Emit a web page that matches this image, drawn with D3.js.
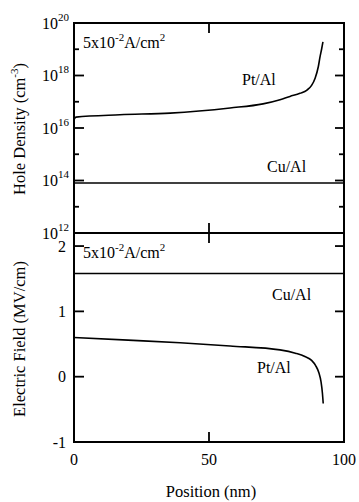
<!DOCTYPE html>
<html>
<head>
<meta charset="utf-8">
<script src="https://cdn.jsdelivr.net/npm/d3@7"></script>
<style>
  html, body { margin: 0; padding: 0; background: #fff; }
  svg { display: block; }
  text { font-family: "Liberation Serif", "Times New Roman", serif; fill: #000; }
</style>
</head>
<body>
<svg id="chart" width="359" height="502"></svg>
<script>
// Position axis (nm)
const xTicks = [0, 50, 100];

// Hole density panel (cm^-3)
const densityMajorExp = [12, 14, 16, 18, 20];
const densityMinorExp = [13, 15, 17, 19];
const ptAlDensityPos = [0, 0.7, 17, 35.6, 57.8, 70, 76.3, 80, 83.7, 86.3, 88, 89.3, 90.5, 91.1, 91.7, 92.2];
const ptAlDensity = [2.1e16, 2.6e16, 3.2e16, 3.7e16, 5.8e16, 8.3e16, 1.2e17, 1.6e17, 2.1e17, 2.8e17, 4.2e17, 7.9e17, 2.2e18, 5e18, 1e19, 1.9e19];
const cuAlDensityPos = [0, 100];
const cuAlDensity = [8e13, 8e13];

// Electric field panel (MV/cm)
const fieldTicks = [-1, 0, 1, 2];
const ptAlFieldPos = [0, 20, 39.3, 57.8, 76.3, 82, 85.5, 88, 89.5, 90.7, 91.5, 92, 92.3];
const ptAlField = [0.60, 0.56, 0.52, 0.47, 0.41, 0.36, 0.31, 0.25, 0.17, 0.06, -0.08, -0.25, -0.41];
const cuAlFieldPos = [0, 100];
const cuAlField = [1.58, 1.58];

const svg = d3.select("#chart");
const xL = 74, xR = 344, yT = 23, yM = 233, yB = 442;

const x = d3.scaleLinear().domain([0, 100]).range([xL, xR]);
const yDen = d3.scaleLog().domain([1e12, 1e20]).range([yM, yT]);
const yFld = d3.scaleLinear().domain([-1, 2.2]).range([yB, yM]);

const ink = "#000";

// Frames
function frame(y0, y1) {
  svg.append("rect").attr("x", xL).attr("y", y0)
    .attr("width", xR - xL).attr("height", y1 - y0)
    .attr("fill", "none").attr("stroke", ink).attr("stroke-width", 2);
}
frame(yT, yM);
frame(yM, yB);

// Inward ticks
function hTick(xp, yp, len) {
  svg.append("line").attr("x1", xp).attr("x2", xp + len)
    .attr("y1", yp).attr("y2", yp).attr("stroke", ink).attr("stroke-width", 1.8);
}
function vTick(xp, yp, len) {
  svg.append("line").attr("x1", xp).attr("x2", xp)
    .attr("y1", yp).attr("y2", yp + len).attr("stroke", ink).attr("stroke-width", 1.8);
}

densityMajorExp.filter(e => e > 12 && e < 20).forEach(e => {
  const yp = yDen(Math.pow(10, e));
  hTick(xL, yp, 10); hTick(xR, yp, -9);
});
densityMinorExp.forEach(e => {
  const yp = yDen(Math.pow(10, e));
  hTick(xL, yp, 5); hTick(xR, yp, -5);
});
fieldTicks.filter(v => v > -1).forEach(v => {
  const yp = yFld(v);
  hTick(xL, yp, 10); hTick(xR, yp, -9);
});
xTicks.filter(v => v > 0 && v < 100).forEach(v => {
  const xp = x(v);
  vTick(xp, yT, 10);
  vTick(xp, yM, -10);
  vTick(xp, yM, 10);
  vTick(xp, yB, -10);
});

// Density tick labels: 10^n
densityMajorExp.forEach(e => {
  const t = svg.append("text").attr("x", 69).attr("y", yDen(Math.pow(10, e)) + 5.5)
    .attr("text-anchor", "end").attr("font-size", 16);
  t.append("tspan").text("10");
  t.append("tspan").attr("font-size", 11).attr("dy", -8).text(String(e));
});

// Field tick labels
fieldTicks.forEach(v => {
  svg.append("text").attr("x", 66).attr("y", yFld(v) + 5.5)
    .attr("text-anchor", "end").attr("font-size", 16).text(v);
});

// Position tick labels
xTicks.forEach(v => {
  svg.append("text").attr("x", x(v)).attr("y", 465)
    .attr("text-anchor", "middle").attr("font-size", 16).text(v);
});

// Axis titles
svg.append("text").attr("x", 211).attr("y", 497).attr("text-anchor", "middle")
  .attr("font-size", 16.5).text("Position (nm)");

const yl1 = svg.append("text").attr("transform", "translate(25,129) rotate(-90)")
  .attr("text-anchor", "middle").attr("font-size", 16.5);
yl1.append("tspan").text("Hole Density (cm");
yl1.append("tspan").attr("font-size", 11).attr("dy", -7).text("-3");
yl1.append("tspan").attr("dy", 7).text(")");

svg.append("text").attr("transform", "translate(25,339) rotate(-90)")
  .attr("text-anchor", "middle").attr("font-size", 16.5).text("Electric Field (MV/cm)");

// Current density annotation
function currentLabel(yb) {
  const t = svg.append("text").attr("x", 83).attr("y", yb).attr("font-size", 16);
  t.append("tspan").text("5x10");
  t.append("tspan").attr("font-size", 11).attr("dy", -7).text("-2");
  t.append("tspan").attr("dy", 7).text("A/cm");
  t.append("tspan").attr("font-size", 11).attr("dy", -7).text("2");
}
currentLabel(48);
currentLabel(258);

// Curves
const denLine = d3.line().x(d => x(d[0])).y(d => yDen(d[1])).curve(d3.curveMonotoneX);
const fldLine = d3.line().x(d => x(d[0])).y(d => yFld(d[1])).curve(d3.curveMonotoneX);

function draw(gen, xs, ys) {
  svg.append("path").datum(d3.zip(xs, ys)).attr("d", gen)
    .attr("fill", "none").attr("stroke", ink).attr("stroke-width", 1.6);
}
draw(denLine, ptAlDensityPos, ptAlDensity);
draw(denLine, cuAlDensityPos, cuAlDensity);
draw(fldLine, ptAlFieldPos, ptAlField);
draw(fldLine, cuAlFieldPos, cuAlField);

// Curve labels
function lbl(xp, yp, s) {
  svg.append("text").attr("x", xp).attr("y", yp).attr("font-size", 16).text(s);
}
lbl(242, 85, "Pt/Al");
lbl(267, 172, "Cu/Al");
lbl(272, 300, "Cu/Al");
lbl(257, 373, "Pt/Al");
</script>
</body>
</html>
